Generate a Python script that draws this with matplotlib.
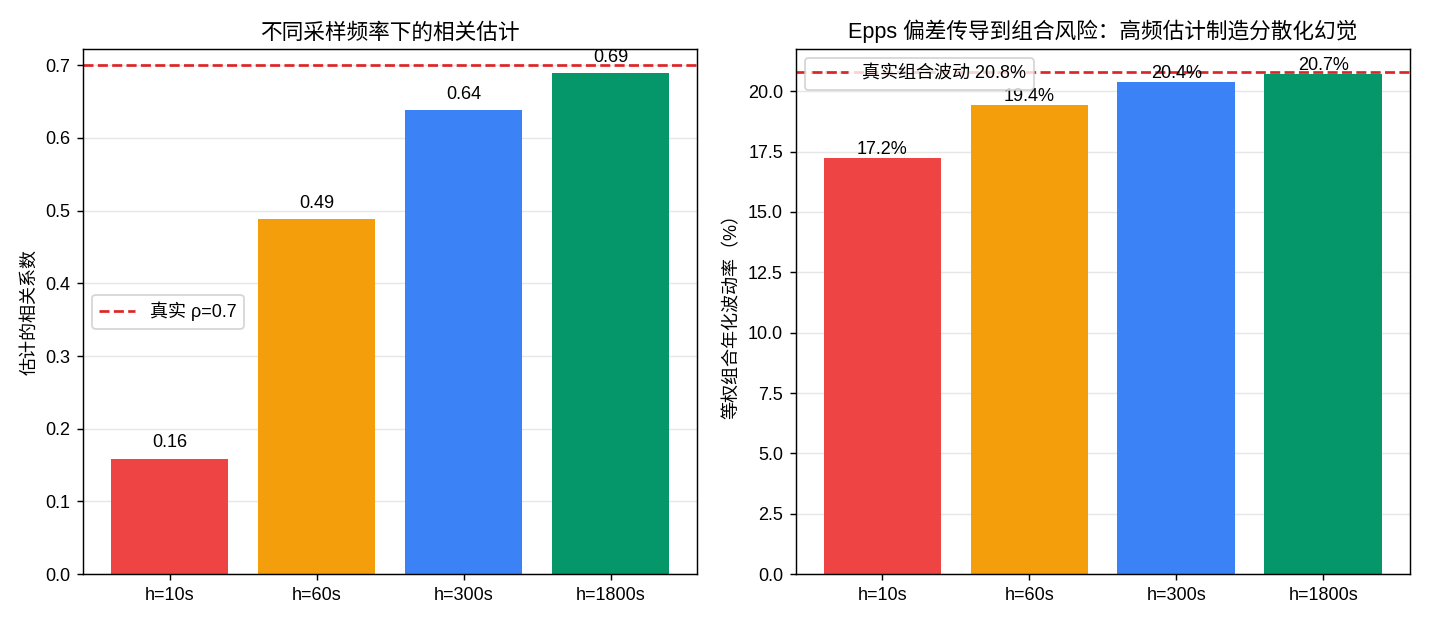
import matplotlib
matplotlib.use('Agg')
import matplotlib.pyplot as plt

plt.rcParams['font.family'] = ['Liberation Sans', 'Noto Sans CJK SC', 'DejaVu Sans']
plt.rcParams['axes.unicode_minus'] = False

labels = ['h=10s', 'h=60s', 'h=300s', 'h=1800s']
corr_est = [0.159, 0.488, 0.638, 0.689]
true_rho = 0.7
port_vol = [17.23, 19.45, 20.4, 20.7]
true_vol = 20.8
colors = ['#ef4444', '#f59e0b', '#3b82f6', '#059669']

fig, (ax1, ax2) = plt.subplots(1, 2, figsize=(11, 4.8), dpi=130)

x = range(len(labels))

# left: correlation estimate by sampling interval
ax1.bar(x, corr_est, color=colors, width=0.8)
ax1.axhline(true_rho, color='#dc2626', ls='--', lw=1.5, label=f'真实 ρ={true_rho}')
for i, v in enumerate(corr_est):
    ax1.text(i, v + 0.01, f'{v:.2f}', ha='center', va='bottom', fontsize=10)
ax1.set_xticks(list(x))
ax1.set_xticklabels(labels)
ax1.set_ylim(0, 0.722)
ax1.set_ylabel('估计的相关系数')
ax1.set_title('不同采样频率下的相关估计', fontsize=12)
ax1.legend(loc='center left')
ax1.grid(axis='y', alpha=0.3)
ax1.set_axisbelow(True)

# right: portfolio vol
ax2.bar(x, port_vol, color=colors, width=0.8)
ax2.axhline(true_vol, color='#dc2626', ls='--', lw=1.5, label=f'真实组合波动 {true_vol}%')
for i, v in enumerate(port_vol):
    ax2.text(i, v, f'{v:.1f}%', ha='center', va='bottom', fontsize=10)
ax2.set_xticks(list(x))
ax2.set_xticklabels(labels)
ax2.set_ylim(0, 21.74)
ax2.set_ylabel('等权组合年化波动率（%）')
ax2.set_title('Epps 偏差传导到组合风险：高频估计制造分散化幻觉', fontsize=12)
ax2.legend(loc='upper left')
ax2.grid(axis='y', alpha=0.3)
ax2.set_axisbelow(True)

plt.subplots_adjust(left=0.058, right=0.986, bottom=0.08, top=0.921, wspace=0.16)
plt.savefig('out.png', dpi=130)
